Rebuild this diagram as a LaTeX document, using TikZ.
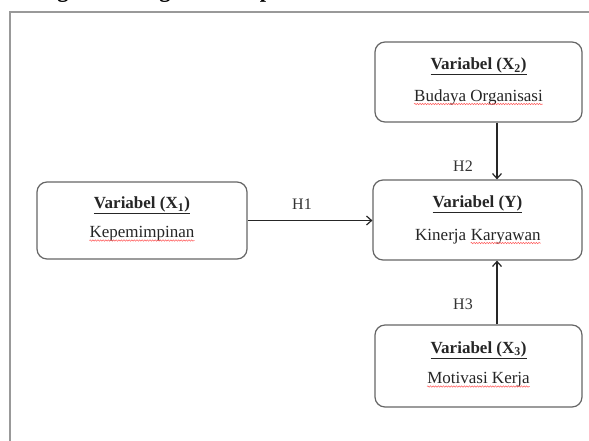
\documentclass[tikz,border=0pt]{standalone}
\usepackage{fontspec}
\setmainfont{Liberation Serif}
\usetikzlibrary{arrows.meta,decorations.pathmorphing}
\begin{document}
\begin{tikzpicture}[x=1pt,y=-1pt,
 varbox/.style={draw=black!60, line width=1.2pt, rounded corners=10pt, minimum width=207pt, minimum height=80pt, inner sep=0},
 ttl/.style={font=\fontsize{17}{20}\selectfont\bfseries, anchor=base, inner sep=0, text=black!85},
 sub/.style={font=\fontsize{17}{20}\selectfont, anchor=base, inner sep=0, text=black!85},
 hyp/.style={font=\fontsize{16}{19}\selectfont, anchor=base, inner sep=0, text=black!80},
 conn/.style={draw=black!85, line width=1.3pt, -{Straight Barb[length=5pt,width=9pt,line width=1.2pt]}},
 squig/.style={draw=red!65, line width=0.5pt, decorate, decoration={snake,amplitude=0.7pt,segment length=2.6pt}}]
\useasboundingbox (0,0) rectangle (589,440);
\fill[white] (0,0) rectangle (589,440);
% cut-off heading
\node[font=\fontsize{22.5}{26}\selectfont\bfseries, anchor=base west, inner sep=0] (head) at (31,-2.5) {Bagan Kerangka Konseptual};
% frame
\draw[black!40, line width=2pt] (10,12) rectangle (640,480);
% boxes
\node[varbox] (x2) at (478.5,82) {};
\node[varbox, minimum width=209pt] (y) at (477.5,220) {};
\node[varbox, minimum width=210pt, minimum height=77pt] (x1) at (142,220.5) {};
\node[varbox, minimum height=82pt] (x3) at (478.5,366) {};
% texts
\node[ttl] (x2t) at (478.5,69.5) {\underline{Variabel (X\textsubscript{2})}};
\node[sub] (x2s) at (478.5,101) {Budaya Organisasi};
\node[ttl] (x1t) at (142,208.5) {\underline{Variabel (X\textsubscript{1})}};
\node[sub] (x1s) at (142,237.5) {Kepemimpinan};
\node[ttl] (yt) at (477.5,207.5) {\underline{Variabel (Y)}};
\node[sub, anchor=base west] (ys1) at (415,240) {Kinerja};
\node[sub, anchor=base west] (ys2) at ([xshift=4.25pt]ys1.base east) {Karyawan};
\node[ttl] (x3t) at (478.5,353) {\underline{Variabel (X\textsubscript{3})}};
\node[sub] (x3s) at (478.5,383.5) {Motivasi Kerja};
% spell-check squiggles
\foreach \n in {x2s,x1s,ys2,x3s}{
  \draw[squig] ([yshift=-3pt]\n.base west) -- ([yshift=-3pt]\n.base east);
}
% connectors
\coordinate (ax) at (497,0);
\draw[conn] (x1.east) -- (x1.east -| y.west);
\draw[conn] (x2.south -| ax) -- (y.north -| ax);
\draw[conn] (x3.north -| ax) -- (y.south -| ax);
% hypothesis labels
\node[hyp] (h1) at (302,209) {H1};
\node[hyp] (h2) at (463,171) {H2};
\node[hyp] (h3) at (463,309) {H3};
\end{tikzpicture}
\end{document}
